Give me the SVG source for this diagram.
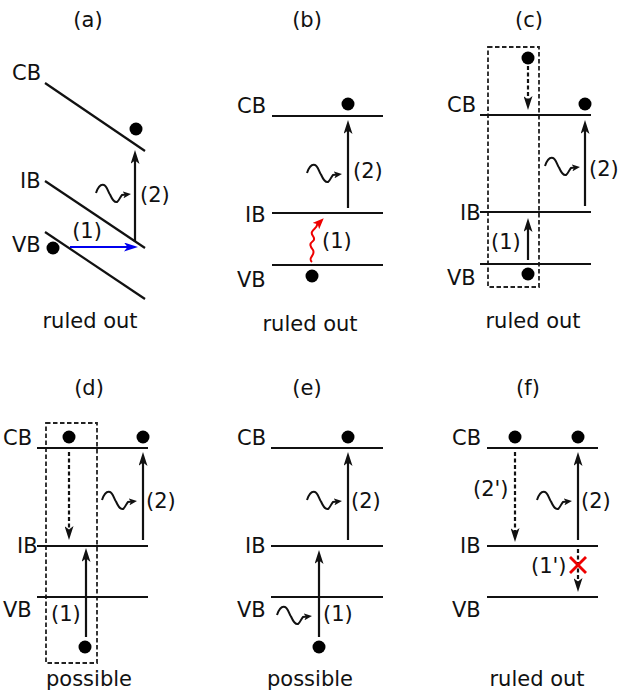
<svg xmlns="http://www.w3.org/2000/svg" width="619" height="692" viewBox="0 0 619 692">
<style>
text{font-family:"DejaVu Sans","Liberation Sans",sans-serif;font-size:21px;fill:#111}
.t{text-anchor:middle}
.lv{stroke:#111;stroke-width:2.2;fill:none}
.ar{stroke:#111;stroke-width:2.2;fill:none;marker-end:url(#ah)}
.da{stroke:#111;stroke-width:2.2;fill:none;stroke-dasharray:4,2.5;marker-end:url(#ah)}
.wv{stroke:#111;stroke-width:2;fill:none;marker-end:url(#wh)}
.bx{stroke:#222;stroke-width:1.8;fill:none;stroke-dasharray:4.5,2.5}
.dot{fill:#000}
</style>
<defs>
<marker id="ah" viewBox="0 0 14 9" refX="7" refY="4.5" markerWidth="14" markerHeight="9" markerUnits="userSpaceOnUse" orient="auto"><path d="M0,0 L14,4.5 L0,9 L3.5,4.5 Z" fill="#111"/></marker>
<marker id="wh" viewBox="0 0 8 7" refX="3" refY="3.5" markerWidth="8" markerHeight="7" markerUnits="userSpaceOnUse" orient="auto"><path d="M0,0 L8,3.5 L0,7 L2,3.5 Z" fill="#111"/></marker>
<marker id="bh" viewBox="0 0 14 9" refX="7" refY="4.5" markerWidth="14" markerHeight="9" markerUnits="userSpaceOnUse" orient="auto"><path d="M0,0 L14,4.5 L0,9 L3.5,4.5 Z" fill="#0000ee"/></marker>
<marker id="rh" viewBox="0 0 11 9" refX="5" refY="4.5" markerWidth="11" markerHeight="9" markerUnits="userSpaceOnUse" orient="auto"><path d="M0,0 L11,4.5 L0,9 L2.5,4.5 Z" fill="#ee0000"/></marker>
<path id="wave" d="M0,0 C2,-6 5,-9 8,-8 C11,-7 12,-1 14,1.5 C16,6 18,10 21,9 C23,8 24,4 26,2 L30,1.5"/>
</defs>

<!-- Panel (a) -->
<g id="panel-a">
<text class="t" x="88" y="27">(a)</text>
<g id="a-levels">
<line class="lv" x1="45" y1="83" x2="145" y2="151"/>
<line class="lv" x1="45" y1="181" x2="145" y2="248"/>
<line class="lv" x1="45" y1="232" x2="145" y2="299"/>
<text x="12" y="80">CB</text>
<text x="20" y="188">IB</text>
<text x="12" y="252">VB</text>
</g>
<circle class="dot" cx="136" cy="129" r="6.5"/>
<circle class="dot" cx="53" cy="248" r="6.5"/>
<g id="a-connectors">
<line x1="70" y1="247" x2="131" y2="247" stroke="#0000ee" stroke-width="2.2" marker-end="url(#bh)"/>
<line class="ar" x1="135" y1="242" x2="135" y2="157"/>
<use href="#wave" class="wv" x="96" y="193"/>
</g>
<text class="t" x="87" y="238">(1)</text>
<text x="140" y="202">(2)</text>
<text class="t" x="90" y="328">ruled out</text>
</g>

<!-- Panel (b) -->
<g id="panel-b">
<text class="t" x="307" y="27">(b)</text>
<g id="b-levels">
<line class="lv" x1="272" y1="116" x2="383" y2="116"/>
<line class="lv" x1="272" y1="213" x2="383" y2="213"/>
<line class="lv" x1="272" y1="265" x2="383" y2="265"/>
<text x="237" y="113">CB</text>
<text x="245" y="222">IB</text>
<text x="237" y="287">VB</text>
</g>
<circle class="dot" cx="348" cy="104" r="6.5"/>
<circle class="dot" cx="312" cy="276" r="6.5"/>
<g id="b-connectors">
<line class="ar" x1="348" y1="208" x2="348" y2="127"/>
<use href="#wave" class="wv" x="307" y="173"/>
<path d="M312,262 C307,258 316,255 313,250 C310,246 309,244 313,241 C317,238 310,235 312,232 C313,229 317,228 317,225 L319.5,222.5" stroke="#ee0000" stroke-width="2" fill="none" marker-end="url(#rh)"/>
</g>
<text x="353" y="178">(2)</text>
<text x="322" y="248">(1)</text>
<text class="t" x="310" y="331">ruled out</text>
</g>

<!-- Panel (c) -->
<g id="panel-c">
<text class="t" x="529" y="27">(c)</text>
<rect class="bx" x="488" y="47" width="51" height="240"/>
<g id="c-levels">
<line class="lv" x1="480" y1="115" x2="591" y2="115"/>
<line class="lv" x1="480" y1="212" x2="591" y2="212"/>
<line class="lv" x1="480" y1="264" x2="591" y2="264"/>
<text x="447" y="112">CB</text>
<text x="460" y="220">IB</text>
<text x="447" y="285">VB</text>
</g>
<circle class="dot" cx="528" cy="58" r="6.5"/>
<circle class="dot" cx="585" cy="104" r="6.5"/>
<circle class="dot" cx="528" cy="274" r="6.5"/>
<g id="c-connectors">
<line class="da" x1="528" y1="66" x2="528" y2="103"/>
<line class="ar" x1="585" y1="206" x2="585" y2="127"/>
<line class="ar" x1="528" y1="260" x2="528" y2="225"/>
<use href="#wave" class="wv" x="545" y="166"/>
</g>
<text x="589" y="176">(2)</text>
<text x="491" y="249">(1)</text>
<text class="t" x="533" y="328">ruled out</text>
</g>

<!-- Panel (d) -->
<g id="panel-d">
<text class="t" x="89" y="395">(d)</text>
<rect class="bx" x="46" y="423" width="51" height="240"/>
<g id="d-levels">
<line class="lv" x1="37" y1="448" x2="148" y2="448"/>
<line class="lv" x1="37" y1="546" x2="148" y2="546"/>
<line class="lv" x1="37" y1="597" x2="148" y2="597"/>
<text x="3" y="445">CB</text>
<text x="17" y="553">IB</text>
<text x="3" y="617">VB</text>
</g>
<circle class="dot" cx="69" cy="437" r="6.5"/>
<circle class="dot" cx="143" cy="437" r="6.5"/>
<circle class="dot" cx="85" cy="647" r="6.5"/>
<g id="d-connectors">
<line class="da" x1="69" y1="452" x2="69" y2="533"/>
<line class="ar" x1="143" y1="540" x2="143" y2="459"/>
<line class="ar" x1="86" y1="637" x2="86" y2="555"/>
<use href="#wave" class="wv" x="102" y="500"/>
</g>
<text x="146" y="508">(2)</text>
<text x="51" y="621">(1)</text>
<text class="t" x="89" y="686">possible</text>
</g>

<!-- Panel (e) -->
<g id="panel-e">
<text class="t" x="307" y="395">(e)</text>
<g id="e-levels">
<line class="lv" x1="271" y1="448" x2="383" y2="448"/>
<line class="lv" x1="271" y1="546" x2="383" y2="546"/>
<line class="lv" x1="271" y1="597" x2="383" y2="597"/>
<text x="237" y="445">CB</text>
<text x="245" y="553">IB</text>
<text x="237" y="617">VB</text>
</g>
<circle class="dot" cx="348" cy="437" r="6.5"/>
<circle class="dot" cx="319" cy="647" r="6.5"/>
<g id="e-connectors">
<line class="ar" x1="348" y1="540" x2="348" y2="459"/>
<line class="ar" x1="319" y1="637" x2="319" y2="557"/>
<use href="#wave" class="wv" x="307" y="500"/>
<use href="#wave" class="wv" x="277" y="615"/>
</g>
<text x="351" y="508">(2)</text>
<text x="323" y="621">(1)</text>
<text class="t" x="310" y="686">possible</text>
</g>

<!-- Panel (f) -->
<g id="panel-f">
<text class="t" x="528" y="395">(f)</text>
<g id="f-levels">
<line class="lv" x1="487" y1="448" x2="598" y2="448"/>
<line class="lv" x1="487" y1="546" x2="598" y2="546"/>
<line class="lv" x1="487" y1="597" x2="598" y2="597"/>
<text x="452" y="445">CB</text>
<text x="460" y="553">IB</text>
<text x="452" y="617">VB</text>
</g>
<circle class="dot" cx="515" cy="437" r="6.5"/>
<circle class="dot" cx="578" cy="437" r="6.5"/>
<g id="f-connectors">
<line class="da" x1="515" y1="452" x2="515" y2="535"/>
<line class="ar" x1="578" y1="540" x2="578" y2="459"/>
<line class="da" x1="578" y1="549" x2="578" y2="585"/>
<use href="#wave" class="wv" x="537" y="500"/>
<g stroke="#ee0000" stroke-width="2.8">
<line x1="570" y1="557" x2="586" y2="573"/>
<line x1="586" y1="557" x2="570" y2="573"/>
</g>
</g>
<text x="473" y="496">(2')</text>
<text x="581" y="508">(2)</text>
<text x="531" y="573">(1')</text>
<text class="t" x="537" y="686">ruled out</text>
</g>
</svg>
